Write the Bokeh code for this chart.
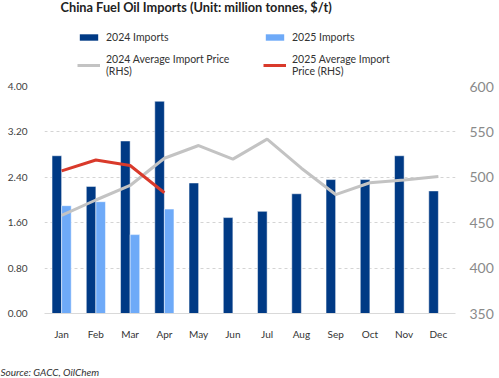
from bokeh.plotting import figure
from bokeh.layouts import column
from bokeh.models import (ColumnDataSource, FactorRange, Range1d, LinearAxis,
                          FixedTicker, NumeralTickFormatter, Legend, LegendItem, Label)
from bokeh.transform import dodge
from bokeh.embed import file_html
from bokeh.resources import INLINE

months = ["Jan", "Feb", "Mar", "Apr", "May", "Jun", "Jul", "Aug", "Sep", "Oct", "Nov", "Dec"]
imports_2024 = [2.78, 2.24, 3.04, 3.74, 2.30, 1.69, 1.80, 2.11, 2.36, 2.36, 2.78, 2.16]
months_2025 = ["Jan", "Feb", "Mar", "Apr"]
imports_2025 = [1.90, 1.97, 1.39, 1.84]
price_2024 = [458, 475, 491, 521, 535, 520, 542, 510, 481, 494, 497, 501]
price_2025 = [507, 519, 513, 483]
left_ticks = [0.0, 0.8, 1.6, 2.4, 3.2, 4.0]
right_ticks = [350, 400, 450, 500, 550, 600]
legend_labels = ["2024 Imports", "2025 Imports",
                 "2024 Average Import Price\n(RHS)", "2025 Average Import\nPrice (RHS)"]
title_text = "China Fuel Oil Imports (Unit: million tonnes, $/t)"
source_text = "Source: GACC, OilChem"

NAVY = "#003a85"
LIGHT = "#6eaaf8"
GRAY = "#c3c3c3"
RED = "#d93a2b"
FONT = "Lato"
W = 499


def blank(height):
    f = figure(width=W, height=height, x_range=Range1d(0, 1), y_range=Range1d(0, 1),
               output_backend="svg", toolbar_location=None, x_axis_type=None,
               y_axis_type=None, min_border=0, min_border_left=0, min_border_right=0,
               min_border_top=0, min_border_bottom=0)
    f.outline_line_color = None
    f.xgrid.visible = False
    f.ygrid.visible = False
    if "frame_align" in f.properties():
        f.frame_align = False
    return f


# ---------- header (title + legend) ----------
hdr = blank(78)
dummy = ColumnDataSource(dict(x=[-5], y=[-5], t=[-5]))
d1 = hdr.vbar(x="x", top="t", width=0.1, source=dummy, fill_color=NAVY, line_color=None)
d2 = hdr.vbar(x="x", top="t", width=0.1, source=dummy, fill_color=LIGHT, line_color=None)
d3 = hdr.line(x="x", y="y", source=dummy, line_color=GRAY, line_width=3)
d4 = hdr.line(x="x", y="y", source=dummy, line_color=RED, line_width=3)
hdr.add_layout(Label(x=60, y=72, x_units="screen", y_units="screen", text=title_text,
                     text_font=FONT, text_font_style="bold", text_font_size="12.75px",
                     text_color="#222222", text_baseline="middle"))
legend = Legend(items=[LegendItem(label=legend_labels[0], renderers=[d1]),
                       LegendItem(label=legend_labels[2], renderers=[d3]),
                       LegendItem(label=legend_labels[1], renderers=[d2]),
                       LegendItem(label=legend_labels[3], renderers=[d4])],
                ncols=2, location=(77, 1))
legend.border_line_color = None
legend.background_fill_alpha = 0
legend.padding = 0
legend.margin = 0
legend.label_text_font = FONT
legend.label_text_font_size = "10.5px"
legend.label_text_color = "#333333"
legend.glyph_width = 23
legend.glyph_height = 8
legend.label_height = 12
legend.label_standoff = 6
legend.label_width = 147
legend.spacing = 10
hdr.add_layout(legend, "center")

# ---------- main chart ----------
p = figure(width=W, height=280, x_range=FactorRange(*months, range_padding=0),
           y_range=Range1d(0, 4.0), output_backend="svg", toolbar_location=None,
           min_border_left=44, min_border_right=44, min_border_top=8, min_border_bottom=45)
p.extra_y_ranges = {"price": Range1d(350, 600)}
p.outline_line_color = None

src24 = ColumnDataSource(dict(m=months, v=imports_2024, pr=price_2024))
src25 = ColumnDataSource(dict(m=months_2025, v=imports_2025, pr=price_2025))

p.vbar(x=dodge("m", -0.14, range=p.x_range), top="v", width=0.28, source=src24,
       fill_color=NAVY, line_color="white", line_width=0.5)
p.vbar(x=dodge("m", 0.14, range=p.x_range), top="v", width=0.28, source=src25,
       fill_color=LIGHT, line_color="white", line_width=0.5)
p.line(x="m", y="pr", source=src24, y_range_name="price", line_color=GRAY, line_width=3)
p.line(x="m", y="pr", source=src25, y_range_name="price", line_color=RED, line_width=3)

ya = p.yaxis[0]
ya.ticker = FixedTicker(ticks=left_ticks)
ya.formatter = NumeralTickFormatter(format="0.00")
ya.axis_line_color = None
ya.major_tick_line_color = None
ya.minor_tick_line_color = None
ya.major_tick_out = 0
ya.major_tick_in = 0
ya.major_label_text_font = FONT
ya.major_label_text_font_size = "10px"
ya.major_label_text_color = "#404040"
ya.major_label_standoff = 17

ra = LinearAxis(y_range_name="price", ticker=FixedTicker(ticks=right_ticks))
ra.axis_line_color = None
ra.major_tick_line_color = None
ra.minor_tick_line_color = None
ra.major_tick_out = 0
ra.major_tick_in = 0
ra.major_label_text_font = FONT
ra.major_label_text_font_size = "14px"
ra.major_label_text_color = "#8a8a8a"
ra.major_label_standoff = 14
p.add_layout(ra, "right")

xa = p.xaxis[0]
xa.axis_line_color = "#d9d9d9"
xa.major_tick_line_color = None
xa.minor_tick_line_color = None
xa.major_tick_out = 0
xa.major_tick_in = 0
xa.major_label_text_font = FONT
xa.major_label_text_font_size = "10px"
xa.major_label_text_color = "#333333"
xa.major_label_standoff = 14

p.xgrid.grid_line_color = None
p.ygrid.ticker = FixedTicker(ticks=left_ticks)
p.ygrid.grid_line_color = "#d4d4d4"
p.ygrid.grid_line_dash = "3 3"

# ---------- footer (source) ----------
ftr = blank(20)
ftr.add_layout(Label(x=0, y=7, x_units="screen", y_units="screen", text=source_text,
                     text_font=FONT, text_font_style="italic", text_font_size="10px",
                     text_color="#333333", text_baseline="middle"))

layout = column(hdr, p, ftr, spacing=0)
open("out.html", "w").write(file_html(layout, INLINE))
